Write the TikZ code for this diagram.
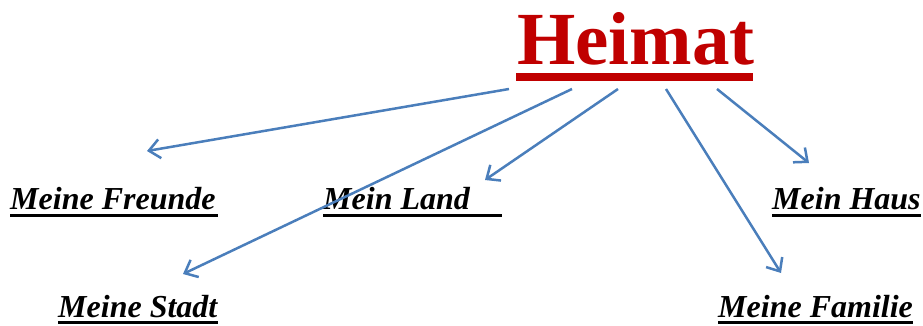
\documentclass[tikz,border=0pt]{standalone}
\usepackage{fontspec}
\setmainfont{Liberation Serif}
\usetikzlibrary{arrows.meta}
\definecolor{hred}{HTML}{C00000}
\definecolor{arrowblue}{HTML}{4A7EBB}
\begin{document}
\begin{tikzpicture}[x=1pt,y=-1pt,
  title/.style={inner sep=0pt,anchor=base west,text=hred,font=\bfseries\fontsize{75}{80}\selectfont},
  lbl/.style={inner sep=0pt,anchor=base west,font=\bfseries\itshape\fontsize{32}{36}\selectfont},
  ul/.style={line width=3pt},
  tul/.style={line width=8pt,hred},
  conn/.style={arrowblue,line width=2.5pt,-{Straight Barb[length=11pt,width=19pt]}}]
\useasboundingbox (0,0) rectangle (923,326);
% title
\node[title] (heimat) at (517,65) {Heimat};
\draw[tul] (516,77.5) -- (753,77.5);
% labels
\node[lbl] (freunde) at (10,209) {Meine Freunde};
\node[lbl] (land) at (323,209) {Mein Land};
\node[lbl] (haus) at (772,209) {Mein Haus};
\node[lbl] (stadt) at (58,317) {Meine Stadt};
\node[lbl] (familie) at (718,317) {Meine Familie};
% underlines
\draw[ul] ([yshift=-6.5pt]freunde.base west) -- ([yshift=-6.5pt,xshift=2pt]freunde.base east);
\draw[ul] ([yshift=-6.5pt]land.base west) -- ([yshift=-6.5pt,xshift=32pt]land.base east);
\draw[ul] ([yshift=-6.5pt]haus.base west) -- ([yshift=-6.5pt]haus.base east);
\draw[ul] ([yshift=-5pt]stadt.base west) -- ([yshift=-5pt]stadt.base east);
\draw[ul] ([yshift=-5pt]familie.base west) -- ([yshift=-5pt]familie.base east);
% connectors
\coordinate (s1) at (509,89);
\coordinate (s2) at (572,89);
\coordinate (s3) at (618,89);
\coordinate (s4) at (666,89);
\coordinate (s5) at (717,89);
\coordinate (t1) at (147,151);
\coordinate (t2) at (183,274);
\coordinate (t3) at (485,180);
\coordinate (t4) at (781,273);
\coordinate (t5) at (809,163);
\draw[conn] (s1) -- (t1);
\draw[conn] (s2) -- (t2);
\draw[conn] (s3) -- (t3);
\draw[conn] (s4) -- (t4);
\draw[conn] (s5) -- (t5);
\end{tikzpicture}
\end{document}
